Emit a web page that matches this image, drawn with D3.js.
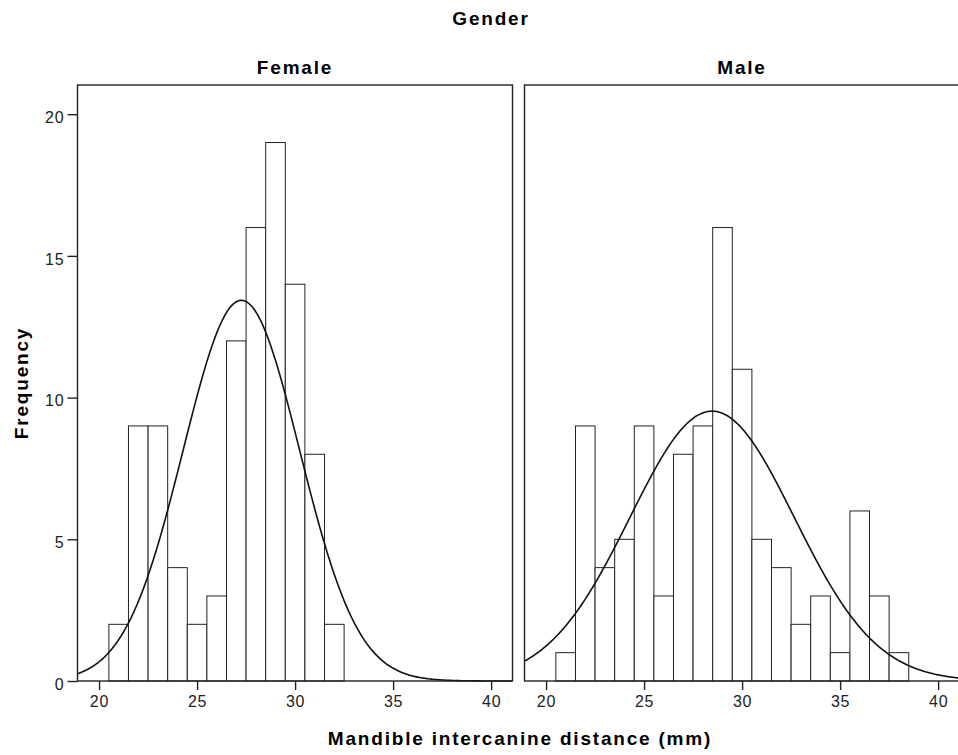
<!DOCTYPE html>
<html>
<head>
<meta charset="utf-8">
<script src="https://cdn.jsdelivr.net/npm/d3@7"></script>
<style>
  body { margin: 0; background: #fff; }
  svg { display: block; }
  .tick text { font-family: "Liberation Sans", Arial, sans-serif; font-size: 16px; fill: #222; letter-spacing: 0.8px; }
  .title { font-family: "Liberation Sans", Arial, sans-serif; font-weight: bold; font-size: 19px; fill: #000; letter-spacing: 1.8px; }
</style>
</head>
<body>
<div id="chart"></div>
<script>
// bin centres (1 mm bins) and counts
var femaleBins = [21, 22, 23, 24, 25, 26, 27, 28, 29, 30, 31, 32];
var femaleCounts = [2, 9, 9, 4, 2, 3, 12, 16, 19, 14, 8, 2];
var maleBins = [21, 22, 23, 24, 25, 26, 27, 28, 29, 30, 31, 32, 33, 34, 35, 36, 37, 38];
var maleCounts = [1, 9, 4, 5, 9, 3, 8, 9, 16, 11, 5, 4, 2, 3, 1, 6, 3, 1];

// normal curve parameters for each panel
var femaleFit = { mean: 27.26, sd: 2.97, n: 100 };
var maleFit = { mean: 28.47, sd: 4.19, n: 100 };

var panelNames = ["Female", "Male"];
var xTicks = [20, 25, 30, 35, 40];
var yTicks = [0, 5, 10, 15, 20];
var binWidth = 1;

var width = 958, height = 755;
var plotTop = 85, plotBottom = 681;
var panelLeft = [77.5, 524.5];
var panelWidth = 435;

var svg = d3.select("#chart").append("svg")
    .attr("width", width)
    .attr("height", height);

var x = d3.scaleLinear().domain([18.9, 41.09]).range([0, panelWidth]);
var y = d3.scaleLinear().domain([0, 21.03]).range([plotBottom, plotTop]);

var panels = [
    { name: panelNames[0], bins: femaleBins, counts: femaleCounts, fit: femaleFit },
    { name: panelNames[1], bins: maleBins, counts: maleCounts, fit: maleFit }
];

function density(fit, v) {
    var z = (v - fit.mean) / fit.sd;
    return fit.n * binWidth / (fit.sd * Math.sqrt(2 * Math.PI)) * Math.exp(-0.5 * z * z);
}

var line = d3.line()
    .x(d => x(d[0]))
    .y(d => y(d[1]))
    .curve(d3.curveBasis);

panels.forEach(function(p, i) {
    var g = svg.append("g")
        .attr("transform", "translate(" + panelLeft[i] + ",0)");

    // bars
    g.selectAll("rect.bar")
        .data(p.bins.map((b, j) => ({ bin: b, count: p.counts[j] })))
        .enter().append("rect")
        .attr("class", "bar")
        .attr("x", d => x(d.bin - binWidth / 2))
        .attr("width", d => x(d.bin + binWidth / 2) - x(d.bin - binWidth / 2))
        .attr("y", d => y(d.count))
        .attr("height", d => y(0) - y(d.count))
        .attr("fill", "#fff")
        .attr("stroke", "#222")
        .attr("stroke-width", 1);

    // fitted normal curve
    var xs = d3.range(x.domain()[0], x.domain()[1], 0.05);
    g.append("path")
        .datum(xs.map(v => [v, density(p.fit, v)]))
        .attr("d", line)
        .attr("fill", "none")
        .attr("stroke", "#111")
        .attr("stroke-width", 1.6);

    // panel frame
    g.append("rect")
        .attr("x", 0)
        .attr("y", plotTop)
        .attr("width", panelWidth)
        .attr("height", plotBottom - plotTop)
        .attr("fill", "none")
        .attr("stroke", "#222")
        .attr("stroke-width", 1.4);

    // x axis
    var xa = g.append("g")
        .attr("transform", "translate(0," + plotBottom + ")")
        .call(d3.axisBottom(x).tickValues(xTicks).tickSize(9).tickPadding(6));
    xa.select(".domain").remove();
    xa.selectAll(".tick line").attr("stroke", "#222").attr("stroke-width", 1.4);

    // y axis only on the first panel
    if (i === 0) {
        var ya = g.append("g")
            .call(d3.axisLeft(y).tickValues(yTicks).tickSize(10).tickPadding(3));
        ya.select(".domain").remove();
        ya.selectAll(".tick line").attr("stroke", "#222").attr("stroke-width", 1.4);
        ya.selectAll(".tick text").attr("dy", "0.52em");
    }

    svg.append("text")
        .attr("class", "title")
        .attr("x", panelLeft[i] + panelWidth / 2)
        .attr("y", 74)
        .attr("text-anchor", "middle")
        .text(p.name);
});

svg.append("text")
    .attr("class", "title")
    .attr("x", 491)
    .attr("y", 25)
    .attr("text-anchor", "middle")
    .text("Gender");

svg.append("text")
    .attr("class", "title")
    .attr("transform", "translate(28," + ((plotTop + plotBottom) / 2) + ") rotate(-90)")
    .attr("text-anchor", "middle")
    .text("Frequency");

svg.append("text")
    .attr("class", "title")
    .attr("x", 520)
    .attr("y", 745)
    .attr("text-anchor", "middle")
    .text("Mandible intercanine distance (mm)");
</script>
</body>
</html>
